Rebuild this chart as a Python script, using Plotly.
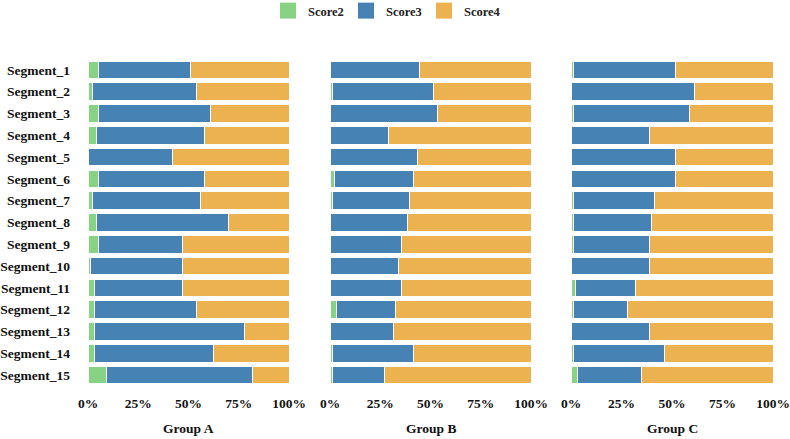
import plotly.graph_objects as go

segments = [f"Segment_{i}" for i in range(1, 16)]
groups = ["Group A", "Group B", "Group C"]
series_names = ["Score2", "Score3", "Score4"]
colors = ["#87d383", "#4682b4", "#ecb24f"]

a_score2 = [5, 2, 5, 4, 0, 5, 2, 4, 5, 1, 3, 3, 3, 3, 9]
a_score3 = [46, 52, 56, 54, 42, 53, 54, 66, 42, 46, 44, 51, 75, 59.5, 73]
a_score4 = [49, 46, 39, 42, 58, 42, 44, 30, 53, 53, 53, 46, 22, 37.5, 18]

b_score2 = [0, 1, 0, 0, 0, 2, 1, 0, 0, 0, 0, 3, 0, 1, 1]
b_score3 = [44.5, 50.5, 53.5, 29, 43.5, 39.5, 38.5, 38.5, 35.5, 34, 35.5, 29.5, 31.5, 40.5, 26]
b_score4 = [55.5, 48.5, 46.5, 71, 56.5, 58.5, 60.5, 61.5, 64.5, 66, 64.5, 67.5, 68.5, 58.5, 73]

c_score2 = [1, 0, 1, 0, 0, 0, 1, 1, 1, 0, 2, 1, 0, 1, 3]
c_score3 = [50.5, 61, 57.5, 39, 51.5, 51.5, 40.5, 39, 38, 39, 30, 27, 39, 45.5, 32]
c_score4 = [48.5, 39, 41.5, 61, 48.5, 48.5, 58.5, 60, 61, 61, 68, 72, 61, 53.5, 65]

group_data = [
    [a_score2, a_score3, a_score4],
    [b_score2, b_score3, b_score4],
    [c_score2, c_score3, c_score4],
]

W, H = 790, 439
FONT = "Liberation Serif"

x_domains_px = [(88, 289), (330, 531), (571, 773)]
y_top_px, y_bot_px = 59, 386

fig = go.Figure()
for gi, series in enumerate(group_data):
    xa = "x" if gi == 0 else f"x{gi+1}"
    ya = "y" if gi == 0 else f"y{gi+1}"
    for si, vals in enumerate(series):
        fig.add_trace(go.Bar(
            y=segments, x=vals, orientation="h", name=series_names[si],
            marker=dict(color=colors[si], line=dict(color="white", width=1)),
            xaxis=xa, yaxis=ya, showlegend=False,
            legendgroup=series_names[si],
        ))

# legend entries with larger square swatches
for si, name in enumerate(series_names):
    fig.add_trace(go.Scatter(
        x=[None], y=[None], mode="markers", name=name,
        marker=dict(symbol="square", size=16, color=colors[si]),
        legendgroup=name, showlegend=True, xaxis="x", yaxis="y",
    ))

layout = dict(
    width=W, height=H,
    margin=dict(l=0, r=0, t=0, b=0, autoexpand=False),
    paper_bgcolor="white", plot_bgcolor="white",
    barmode="stack", bargap=0.2,
    font=dict(family=FONT, size=13, color="#111"),
    legend=dict(orientation="h", x=0.5 - 10 / W, xanchor="center", y=1 - 11 / H, yanchor="middle",
                font=dict(family=FONT, size=12.5, color="#222", weight="bold"),
                traceorder="normal", itemwidth=30, entrywidth=33),
    annotations=[],
)
for gi in range(3):
    x0, x1 = x_domains_px[gi]
    key = "xaxis" if gi == 0 else f"xaxis{gi+1}"
    ykey = "yaxis" if gi == 0 else f"yaxis{gi+1}"
    layout[key] = dict(
        domain=[x0 / W, x1 / W], range=[0, 100], anchor="y" if gi == 0 else f"y{gi+1}",
        tickvals=[0, 25, 50, 75, 100], ticktext=["0%", "25%", "50%", "75%", "100%"],
        showgrid=False, zeroline=False, showline=False, ticks="",
        ticklabelstandoff=7, automargin=False,
        tickfont=dict(family=FONT, size=13.5, color="#111", weight="bold"),
    )
    layout[ykey] = dict(
        domain=[1 - y_bot_px / H, 1 - y_top_px / H],
        anchor="x" if gi == 0 else f"x{gi+1}",
        categoryorder="array", categoryarray=segments, autorange="reversed",
        showgrid=False, zeroline=False, showline=False, ticks="",
        showticklabels=(gi == 0), ticklabelstandoff=17, automargin=False,
        tickfont=dict(family=FONT, size=13.5, color="#111", weight="bold"),
    )
    layout["annotations"].append(dict(
        text=groups[gi], x=(x0 + x1) / 2 / W, y=1 - 428 / H, xref="paper", yref="paper",
        xanchor="center", yanchor="middle", showarrow=False,
        font=dict(family=FONT, size=13.5, color="#111", weight="bold"),
    ))

fig.update_layout(**layout)
fig.write_html("out.html")
